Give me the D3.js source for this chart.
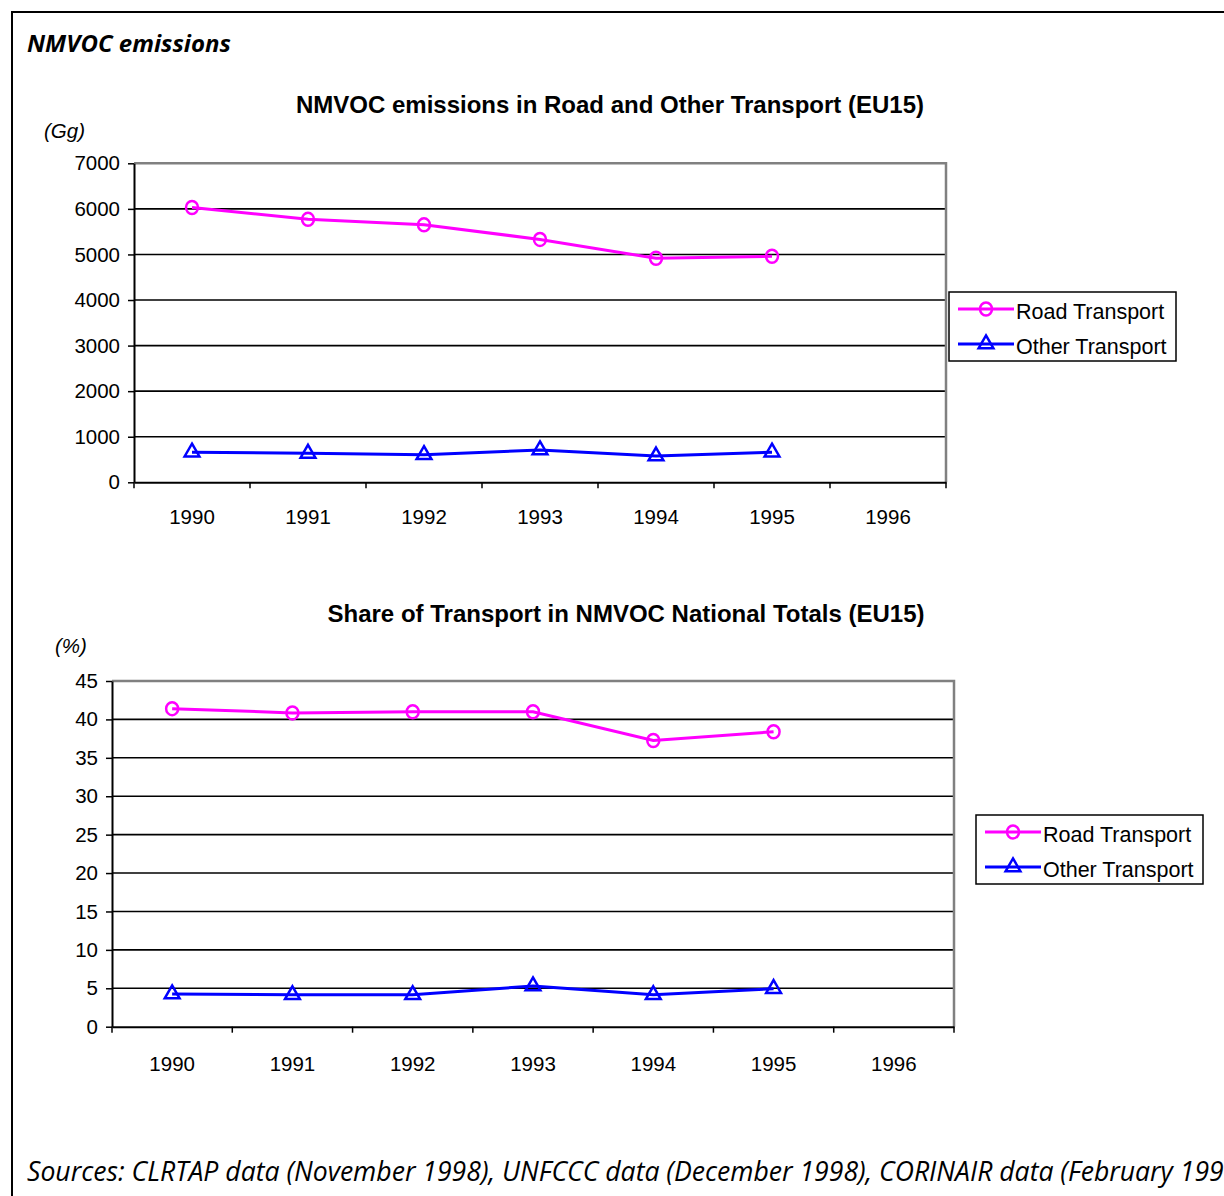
<!DOCTYPE html>
<html><head><meta charset="utf-8">
<script src="https://cdn.jsdelivr.net/npm/d3@7"></script>
<style>
body{margin:0;background:#fff;}
svg{display:block;}
</style></head>
<body>
<svg id="c" width="1224" height="1196"></svg>
<script>
const years = ["1990","1991","1992","1993","1994","1995","1996"];
const seriesNames = ["Road Transport","Other Transport"];
const emissionsRoad = [6030, 5770, 5650, 5330, 4915, 4960];
const emissionsOther = [660, 635, 605, 710, 575, 660];
const shareRoad = [41.4, 40.85, 41.0, 41.0, 37.25, 38.4];
const shareOther = [4.25, 4.15, 4.15, 5.3, 4.15, 4.95];
const emissionTicks = [0,1000,2000,3000,4000,5000,6000,7000];
const shareTicks = [0,5,10,15,20,25,30,35,40,45];

const svg = d3.select("#c");
const FONT = "'Liberation Sans', Arial, sans-serif";

// outer frame
svg.append("path").attr("d","M12,1196 V12 H1224").attr("fill","none").attr("stroke","#000").attr("stroke-width",2);

svg.append("text").attr("x",27).attr("y",52).text("NMVOC emissions")
  .attr("font-family","'Open Sans', sans-serif").attr("font-weight","bold").attr("font-style","italic")
  .attr("font-size",24).attr("fill","#000");

function drawChart(cfg){
  const g = svg.append("g");
  const x = d3.scaleBand().domain(years).range([cfg.x0,cfg.x1]);
  const y = d3.scaleLinear().domain([0,cfg.max]).range([cfg.y0,cfg.y1]);
  // title
  g.append("text").attr("x",cfg.titleX).attr("y",cfg.titleY).attr("text-anchor","middle")
    .attr("font-family",FONT).attr("font-weight","bold").attr("font-size",24).text(cfg.title);
  g.append("text").attr("x",cfg.unitX).attr("y",cfg.unitY).attr("font-family",FONT)
    .attr("font-style","italic").attr("font-size",20.5).text(cfg.unit);
  // gridlines
  g.selectAll("line.grid").data(cfg.ticks.filter(t=>t>0 && t<cfg.max)).enter().append("line")
    .attr("x1",cfg.x0).attr("x2",cfg.x1).attr("y1",d=>y(d)).attr("y2",d=>y(d))
    .attr("stroke","#000").attr("stroke-width",1.6);
  // plot border top/right gray
  g.append("path").attr("d",`M${cfg.x0},${y(cfg.max)} H${cfg.x1} V${cfg.y0}`)
    .attr("fill","none").attr("stroke","#808080").attr("stroke-width",2.5);
  // y axis
  const ya = g.append("g").attr("transform",`translate(${cfg.x0},0)`)
    .call(d3.axisLeft(y).tickValues(cfg.ticks).tickFormat(d3.format("d")).tickSize(6).tickSizeOuter(0).tickPadding(8));
  ya.select(".domain").attr("stroke","#000").attr("stroke-width",2);
  ya.selectAll(".tick line").attr("stroke","#000").attr("stroke-width",1.5);
  ya.selectAll(".tick text").attr("font-family",FONT).attr("font-size",20.5).attr("fill","#000");
  // x axis
  const xa = g.append("g").attr("transform",`translate(0,${cfg.y0})`)
    .call(d3.axisBottom(x).tickSize(0).tickPadding(cfg.xpad));
  xa.select(".domain").attr("stroke","#000").attr("stroke-width",2);
  xa.selectAll(".tick text").attr("font-family",FONT).attr("font-size",20.5).attr("fill","#000");
  // ticks at band boundaries
  const bounds = years.map(d=>x(d)).concat([cfg.x1]);
  g.selectAll("line.xt").data(bounds).enter().append("line")
    .attr("x1",d=>d).attr("x2",d=>d).attr("y1",cfg.y0).attr("y2",cfg.y0+6)
    .attr("stroke","#000").attr("stroke-width",1.5);
  const cx = i => x(years[i]) + x.bandwidth()/2;
  const line = d3.line().x((d,i)=>cx(i)).y(d=>y(d));
  // other
  g.append("path").datum(cfg.other).attr("d",line).attr("fill","none").attr("stroke","#0000FF").attr("stroke-width",3);
  g.append("path").datum(cfg.road).attr("d",line).attr("fill","none").attr("stroke","#FF00FF").attr("stroke-width",3);
  const tri = d3.symbol().type(d3.symbolTriangle).size(95);
  g.selectAll("path.tri").data(cfg.other).enter().append("path")
    .attr("d",tri).attr("transform",(d,i)=>`translate(${cx(i)},${y(d)})`)
    .attr("fill","none").attr("stroke","#0000FF").attr("stroke-width",2.5);
  g.selectAll("ellipse.rc").data(cfg.road).enter().append("ellipse")
    .attr("cx",(d,i)=>cx(i)).attr("cy",d=>y(d)).attr("rx",6).attr("ry",6.5)
    .attr("fill","none").attr("stroke","#FF00FF").attr("stroke-width",2.5);
  // legend
  const L = g.append("g").attr("transform",`translate(${cfg.lx},${cfg.ly})`);
  L.append("rect").attr("x",0).attr("y",0).attr("width",227).attr("height",69)
    .attr("fill","#fff").attr("stroke","#000").attr("stroke-width",1.5);
  const colors = ["#FF00FF","#0000FF"];
  seriesNames.forEach((n,i)=>{
    const yy = 19 + i*35;
    L.append("line").attr("x1",9).attr("x2",65).attr("y1",yy-2).attr("y2",yy-2).attr("stroke",colors[i]).attr("stroke-width",3);
    if(i===0){
      L.append("ellipse").attr("cx",37).attr("cy",yy-2).attr("rx",6).attr("ry",6.5).attr("fill","none").attr("stroke",colors[i]).attr("stroke-width",2.5);
    } else {
      L.append("path").attr("d",tri).attr("transform",`translate(37,${yy-2})`).attr("fill","none").attr("stroke",colors[i]).attr("stroke-width",2.5);
    }
    L.append("text").attr("x",67).attr("y",yy+8).attr("font-family",FONT).attr("font-size",21.5).text(n);
  });
}

drawChart({title:"NMVOC emissions in Road and Other Transport (EU15)", titleX:610, titleY:113,
  unit:"(Gg)", unitX:44, unitY:138, x0:134, x1:946, y0:482.3, y1:163.3, max:7000, ticks:emissionTicks,
  road:emissionsRoad, other:emissionsOther, lx:949, ly:292, xpad:27});
drawChart({title:"Share of Transport in NMVOC National Totals (EU15)", titleX:626, titleY:622,
  unit:"(%)", unitX:55, unitY:653, x0:112, x1:954, y0:1026.7, y1:681, max:45, ticks:shareTicks,
  road:shareRoad, other:shareOther, lx:976, ly:815, xpad:30});

svg.append("text").attr("x",27).attr("y",1181)
  .attr("font-family","'Open Sans', sans-serif").attr("font-style","italic").attr("font-size",26.6)
  .text("Sources: CLRTAP data (November 1998), UNFCCC data (December 1998), CORINAIR data (February 1999)");
</script>
</body></html>
